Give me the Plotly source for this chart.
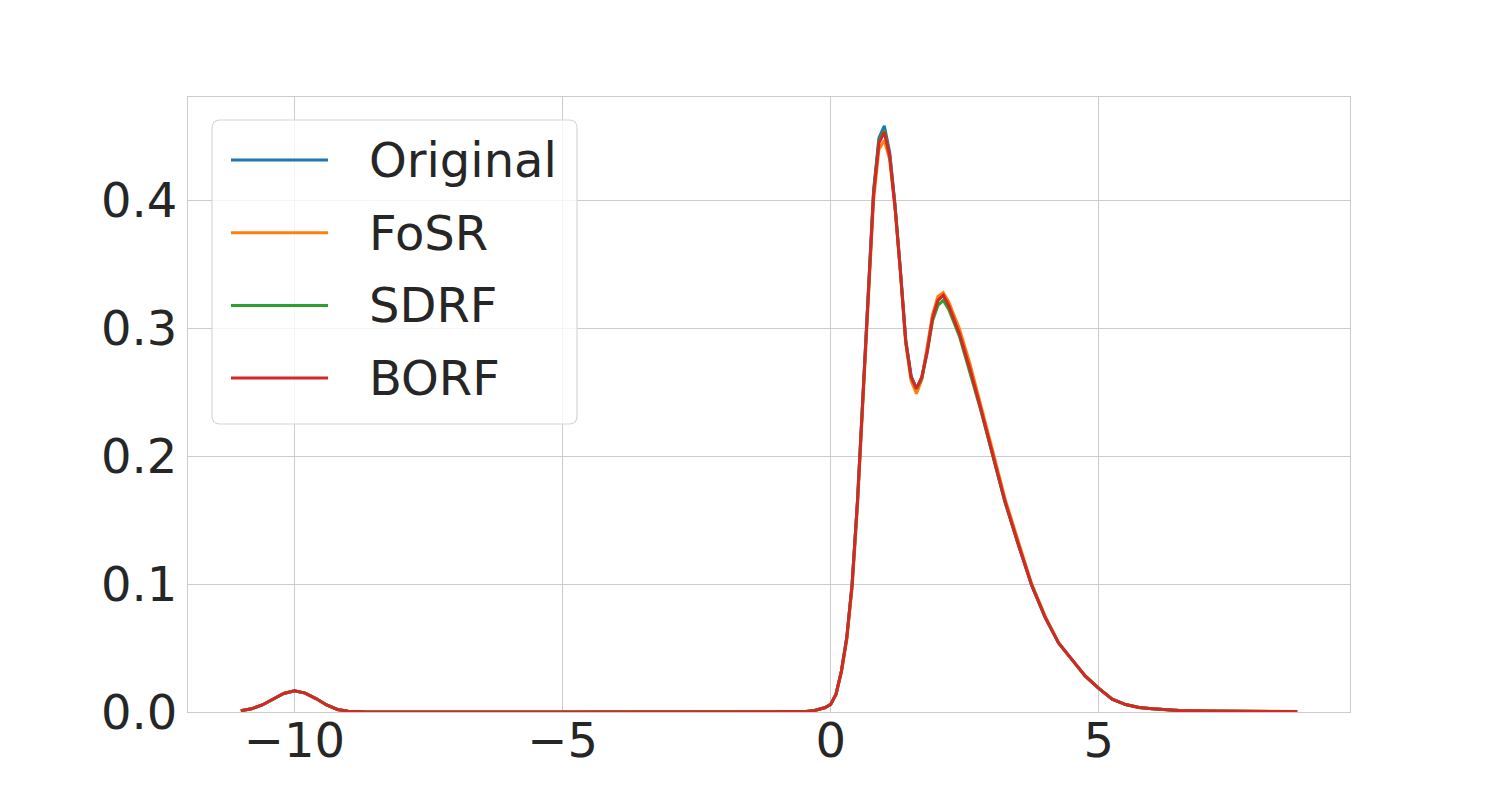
import plotly.graph_objects as go

# sample positions of the density curves
x_vals = [-11.0, -10.8, -10.6, -10.4, -10.2, -10.0, -9.8, -9.6, -9.4, -9.2, -9.0, -8.7, -8.3,
          -7.0, -5.0, -3.0, -1.5, -0.8, -0.5, -0.3, -0.1, 0.0, 0.1, 0.2, 0.3, 0.4, 0.5, 0.6,
          0.7, 0.8, 0.9, 1.0, 1.1, 1.2, 1.3, 1.4, 1.5, 1.6, 1.7, 1.8, 1.9, 2.0, 2.1, 2.2, 2.4,
          2.6, 2.8, 3.0, 3.25, 3.5, 3.75, 4.0, 4.25, 4.5, 4.75, 5.0, 5.25, 5.5, 5.75, 6.0, 6.5,
          7.0, 7.5, 8.0, 8.7]

original = [0.001, 0.0025, 0.0055, 0.010, 0.0145, 0.0166, 0.0148, 0.0105, 0.0055, 0.002, 0.0006, 0.0001, 0.0,
            0.0, 0.0, 0.0, 0.0, 0.0, 0.0003, 0.0012, 0.0035, 0.006, 0.014, 0.032, 0.058, 0.100, 0.165, 0.246,
            0.332, 0.408, 0.449, 0.4585, 0.438, 0.397, 0.346, 0.291, 0.263, 0.253, 0.262, 0.283, 0.309, 0.322, 0.326, 0.318, 0.296,
            0.268, 0.237, 0.205, 0.165, 0.131, 0.099, 0.074, 0.054, 0.041, 0.028, 0.0185, 0.010, 0.0058, 0.0036, 0.0025, 0.0011,
            0.0007, 0.0006, 0.0005, 0.0003]

fosr = [0.001, 0.0025, 0.0055, 0.010, 0.0145, 0.0166, 0.0148, 0.0105, 0.0055, 0.002, 0.0006, 0.0001, 0.0,
        0.0, 0.0, 0.0, 0.0, 0.0, 0.0003, 0.0012, 0.0035, 0.006, 0.014, 0.031, 0.056, 0.097, 0.161, 0.241,
        0.326, 0.400, 0.440, 0.447, 0.432, 0.394, 0.344, 0.288, 0.259, 0.249, 0.260, 0.284, 0.311, 0.325, 0.328, 0.321, 0.300,
        0.272, 0.241, 0.208, 0.167, 0.133, 0.100, 0.075, 0.054, 0.041, 0.028, 0.0185, 0.010, 0.0058, 0.0036, 0.0025, 0.0012,
        0.0008, 0.0009, 0.0006, 0.0003]

sdrf = [0.001, 0.0025, 0.0055, 0.010, 0.0145, 0.0166, 0.0148, 0.0105, 0.0055, 0.002, 0.0006, 0.0001, 0.0,
        0.0, 0.0, 0.0, 0.0, 0.0, 0.0003, 0.0012, 0.0035, 0.006, 0.014, 0.032, 0.058, 0.100, 0.165, 0.245,
        0.331, 0.406, 0.447, 0.455, 0.436, 0.396, 0.345, 0.290, 0.262, 0.253, 0.261, 0.281, 0.306, 0.318, 0.322, 0.315, 0.294,
        0.266, 0.236, 0.204, 0.164, 0.131, 0.099, 0.074, 0.054, 0.041, 0.028, 0.0185, 0.010, 0.0058, 0.0036, 0.0025, 0.0011,
        0.0007, 0.0006, 0.0005, 0.0003]

borf = [0.001, 0.0025, 0.0055, 0.010, 0.0145, 0.0165, 0.0148, 0.0105, 0.0055, 0.002, 0.0006, 0.0001, 0.0,
        0.0, 0.0, 0.0, 0.0, 0.0, 0.0003, 0.0012, 0.0035, 0.006, 0.014, 0.032, 0.058, 0.100, 0.165, 0.245,
        0.330, 0.405, 0.445, 0.4535, 0.435, 0.395, 0.345, 0.290, 0.262, 0.253, 0.262, 0.282, 0.308, 0.322, 0.326, 0.318, 0.296,
        0.268, 0.237, 0.205, 0.165, 0.131, 0.099, 0.074, 0.054, 0.041, 0.028, 0.0185, 0.010, 0.0058, 0.0036, 0.0025, 0.0011,
        0.0007, 0.0006, 0.0005, 0.0003]

names = ["Original", "FoSR", "SDRF", "BORF"]
colors = ["#1f77b4", "#ff7f0e", "#2ca02c", "#d62728"]
x_ticks = [-10, -5, 0, 5]
y_ticks = [0.0, 0.1, 0.2, 0.3, 0.4]

W, H = 1500, 800
# the page body adds an 8px offset, so margins are shifted to keep the plot box in place
L, R, T, B = 180, 158, 89, 96
pw, ph = W - L - R, H - T - B
FONT = "DejaVu Sans"
TXT = "#262626"
FS = 48

fig = go.Figure()
for name, ys, col in zip(names, [original, fosr, sdrf, borf], colors):
    fig.add_trace(go.Scatter(x=x_vals, y=ys, mode="lines", name=name,
                             line=dict(color=col, width=3)))

axis_common = dict(showgrid=True, gridcolor="#cccccc", gridwidth=1,
                   showline=True, mirror=True, linecolor="#cccccc", linewidth=1.25,
                   zeroline=False, ticks="",
                   tickfont=dict(family=FONT, size=FS, color=TXT))
fig.update_xaxes(range=[-11.985, 9.685], tickvals=x_ticks, ticklabelstandoff=-14, **axis_common)
fig.update_yaxes(range=[0, 0.481], tickvals=y_ticks, tickformat=".1f", ticklabelstandoff=0, **axis_common)


# hand-made legend box (matplotlib style, rounded corners); positions given in page pixels
def px_x(p):
    return (p - 8 - L) / pw


def px_y(p):
    return (H + 8 - B - p) / ph


bx0, bx1, by0, by1 = px_x(212), px_x(577), px_y(424), px_y(120)
rx, ry = 8 / pw, 8 / ph
path = (f"M {bx0 + rx} {by0} L {bx1 - rx} {by0} Q {bx1} {by0} {bx1} {by0 + ry} "
        f"L {bx1} {by1 - ry} Q {bx1} {by1} {bx1 - rx} {by1} "
        f"L {bx0 + rx} {by1} Q {bx0} {by1} {bx0} {by1 - ry} "
        f"L {bx0} {by0 + ry} Q {bx0} {by0} {bx0 + rx} {by0} Z")
shapes = [dict(type="path", path=path, xref="paper", yref="paper",
               fillcolor="rgba(255,255,255,0.8)", line=dict(color="#d6d6d6", width=1.2),
               layer="above")]
annotations = []
for i, (name, col) in enumerate(zip(names, colors)):
    yy = px_y(160 + i * 72.7)
    shapes.append(dict(type="line", xref="paper", yref="paper",
                       x0=px_x(231), x1=px_x(328), y0=yy, y1=yy,
                       line=dict(color=col, width=3), layer="above"))
    annotations.append(dict(text=name, xref="paper", yref="paper",
                            x=px_x(367), y=yy, xanchor="left", yanchor="middle",
                            showarrow=False,
                            font=dict(family=FONT, size=FS, color=TXT)))

fig.update_layout(width=W, height=H, margin=dict(l=L, r=R, t=T, b=B),
                  plot_bgcolor="white", paper_bgcolor="white",
                  showlegend=False, shapes=shapes, annotations=annotations,
                  font=dict(family=FONT, color=TXT))

fig.write_html("out.html")
